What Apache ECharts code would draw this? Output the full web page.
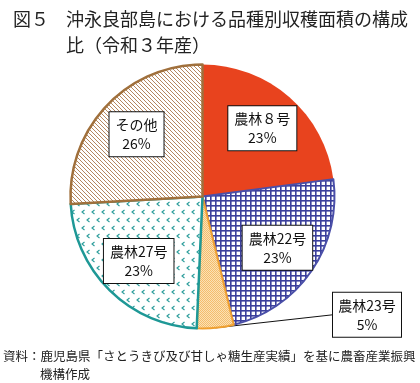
<!DOCTYPE html>
<html><head><meta charset="utf-8">
<script src="https://cdn.jsdelivr.net/npm/echarts@6/dist/echarts.min.js"></script>
<style>html,body{margin:0;padding:0;background:#fff}#c{width:420px;height:383px}</style>
</head><body><div id="c"></div>
<script>
// ---- data ----
const categories = ['農林８号', '農林22号', '農林23号', '農林27号', 'その他'];
const values = [22.9, 23.3, 4.5, 23.4, 25.9];
const percentLabels = ['23%', '23%', '5%', '23%', '26%'];
const titleLines = ['図５', '沖永良部島における品種別収穫面積の構成', '比（令和３年産）'];
const sourceLines = ['資料：鹿児島県「さとうきび及び甘しゃ糖生産実績」を基に農畜産業振興', '機構作成'];

// ---- styles ----
const FONT = '"Noto Sans CJK JP", "Noto Sans", sans-serif';
function pat(w, h, draw) {
  const c = document.createElement('canvas'); c.width = w; c.height = h;
  const g = c.getContext('2d'); draw(g); return { image: c, repeat: 'repeat' };
}
const gridBlue = pat(5, 5, g => { g.fillStyle = '#fff'; g.fillRect(0,0,5,5); g.fillStyle = '#3B3F9C'; g.fillRect(0,0,5,1.6); g.fillRect(0,0,1.6,5); });
const dotsOrange = pat(2, 2, g => { g.fillStyle = '#FBE2B4'; g.fillRect(0,0,2,2); g.fillStyle = '#F4BC6E'; g.fillRect(0,0,1,1); g.fillRect(1,1,1,1); });
const chevTeal = pat(10, 16, g => {
  g.fillStyle = '#fff'; g.fillRect(0,0,10,16);
  g.strokeStyle = '#2A9C9A'; g.lineWidth = 1.1;
  const ch = (x, y) => { g.beginPath(); g.moveTo(x+2.5, y); g.lineTo(x, y+2); g.lineTo(x+2.5, y+4); g.stroke(); };
  ch(2, 2); ch(7, 10);
});
const stripeBrown = pat(4, 4, g => {
  g.fillStyle = '#fff'; g.fillRect(0,0,4,4);
  g.strokeStyle = '#B48660'; g.lineWidth = 1;
  g.beginPath(); g.moveTo(-1,-1); g.lineTo(5,5); g.moveTo(-1,3); g.lineTo(1,5); g.moveTo(3,-1); g.lineTo(5,1); g.stroke();
});
const fills = ['#E8431E', gridBlue, dotsOrange, chevTeal, stripeBrown];
const borders = ['#E8431E', '#4A4FA8', '#F0A030', '#1E9896', '#A0703C'];
const borderWidths = [0, 2, 2, 2.5, 2.5];

const CENTER = [202.5, 196.5];
const R = 132;

const boxLabel = {
  fontFamily: FONT, fontSize: 14, color: '#111', lineHeight: 19,
  backgroundColor: '#fff', borderColor: '#111', borderWidth: 1, padding: [3, 6]
};

function txt(s, x, y, size) {
  return { type: 'text', x: x, y: y, style: { text: s, font: size + 'px ' + FONT, fill: '#222', textVerticalAlign: 'middle', textAlign: 'left' } };
}

const chart = echarts.init(document.getElementById('c'), null, { renderer: 'canvas' });
chart.setOption({
  animation: false,
  graphic: [
    txt(titleLines[0], 13, 19, 18),
    txt(titleLines[1], 66, 19, 18),
    txt(titleLines[2], 66, 45, 18),
    txt(sourceLines[0], 3, 356, 12.5),
    txt(sourceLines[1], 40, 374, 12.5)
  ],
  series: [
    {
      type: 'pie', center: CENTER, radius: [0, R], startAngle: 90, clockwise: true,
      silent: true, avoidLabelOverlap: false,
      data: categories.map((n, i) => ({
        name: n, value: values[i],
        itemStyle: { color: fills[i], borderColor: borders[i], borderWidth: borderWidths[i] },
        label: i === 2 ? { show: true } : { show: false },
        labelLine: i === 2 ? { show: true } : { show: false }
      })),
      label: {
        position: 'outside', alignTo: 'edge', edgeDistance: 19,
        formatter: p => '{a|' + p.name + '}\n{a|' + percentLabels[p.dataIndex] + '}',
        rich: { a: { width: 56, align: 'center', fontFamily: FONT, fontSize: 14, color: '#111', lineHeight: 19 } },
        backgroundColor: '#fff', borderColor: '#111', borderWidth: 1, padding: [3, 6]
      },
      labelLine: { length: 0, length2: 20, lineStyle: { color: '#111', width: 1 } },
      labelLayout: p => {
        if (p.dataIndex !== 2) return {};
        const r = p.labelRect, pts = p.labelLinePoints, dy = -13;
        return { dy: dy, labelLinePoints: [pts[0], [r.x, r.y + r.height / 2 + dy]] };
      }
    },
    {
      type: 'pie', center: CENTER, radius: [R * 0.33, R], startAngle: 90, clockwise: true,
      silent: true, avoidLabelOverlap: false,
      itemStyle: { color: 'rgba(0,0,0,0)' },
      data: categories.map((n, i) => ({
        name: n, value: values[i],
        label: { show: i !== 2 }
      })),
      label: Object.assign({ position: 'inside', formatter: p => p.name + '\n' + percentLabels[p.dataIndex] }, boxLabel),
      labelLine: { show: false }
    }
  ]
});
</script>
</body></html>
